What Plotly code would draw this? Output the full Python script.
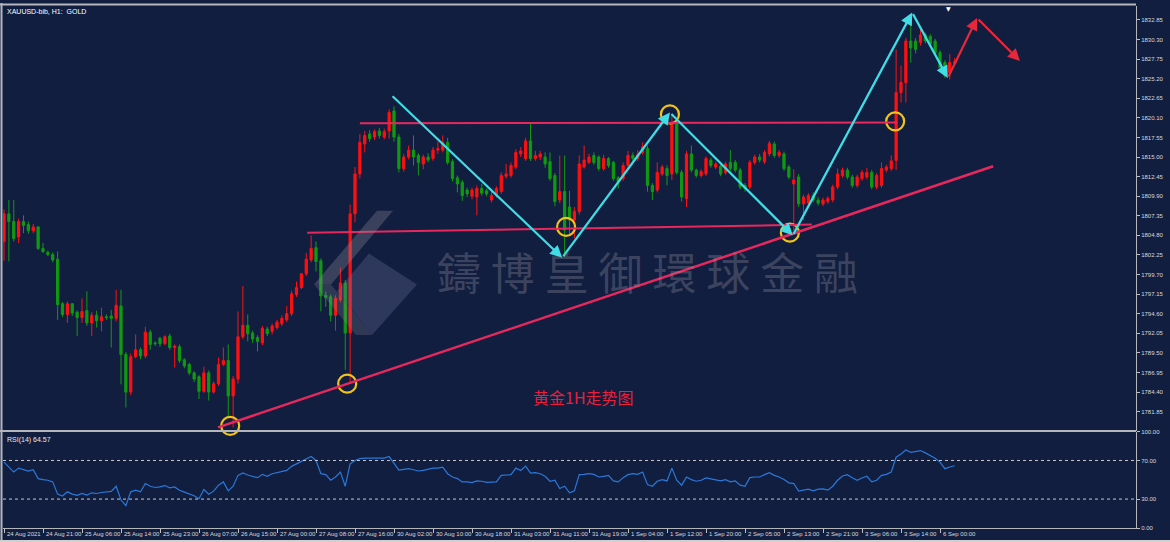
import plotly.graph_objects as go

# ---------------- data ----------------
open_ = [1804.0,1807.6,1806.6,1804.6,1806.6,1806.2,1805.4,1805.9,1803.1,1802.6,
         1802.3,1801.7,1795.9,1794.5,1795.9,1794.8,1794.1,1795.0,1793.4,1794.4,
         1793.7,1794.2,1794.3,1794.0,1795.6,1789.3,1784.4,1789.0,1789.9,1789.1,
         1792.2,1790.8,1791.4,1790.7,1791.7,1790.2,1790.3,1788.6,1788.0,1786.9,
         1786.4,1784.5,1786.9,1784.4,1785.5,1788.0,1788.5,1783.9,1786.1,1791.6,
         1793.1,1792.1,1791.5,1790.8,1792.6,1792.3,1792.8,1793.3,1793.8,1794.6,
         1797.1,1798.0,1799.8,1801.6,1803.2,1801.5,1797.0,1796.8,1794.4,1796.4,
         1798.6,1792.1,1807.6,1812.8,1816.7,1818.0,1817.6,1818.4,1817.6,1818.4,
         1821.0,1817.6,1813.5,1815.0,1815.9,1815.2,1814.1,1815.0,1814.8,1815.9,
         1815.9,1816.9,1814.4,1812.3,1811.7,1810.7,1809.9,1809.8,1810.9,1810.6,
         1809.4,1810.0,1810.5,1812.5,1812.6,1813.7,1815.4,1814.8,1817.1,1814.8,
         1815.0,1815.0,1814.4,1812.6,1809.4,1810.5,1808.5,1806.8,1807.9,1813.7,
         1814.3,1815.2,1815.0,1813.5,1814.8,1814.3,1812.3,1812.2,1813.9,1815.2,
         1814.8,1815.6,1816.1,1811.3,1810.7,1812.8,1813.5,1812.8,1819.3,1813.0,
         1809.6,1815.4,1813.3,1812.6,1812.8,1814.6,1813.7,1813.8,1813.0,1814.3,
         1814.3,1813.3,1811.3,1811.1,1814.3,1815.0,1814.4,1815.4,1816.7,1815.2,
         1815.4,1813.7,1811.5,1812.4,1808.9,1809.0,1810.0,1809.4,1808.9,1809.2,
         1809.4,1811.1,1812.6,1813.3,1812.4,1811.3,1812.2,1812.4,1813.0,1811.1,
         1811.3,1813.3,1813.5,1814.55,1823.4,1824.7,1830.1,1830.1,1829.9,1830.9,
         1830.7,1830.1,1828.6,1827.3,1826.0,1827.2]
high = [1808.2,1809.4,1809.4,1807.0,1807.4,1806.6,1806.3,1806.0,1803.8,1802.8,
        1802.6,1802.7,1796.1,1796.2,1796.0,1795.0,1796.6,1797.5,1794.8,1795.0,
        1795.4,1794.5,1795.1,1797.7,1797.7,1789.6,1789.4,1791.9,1790.2,1792.9,
        1792.5,1791.0,1791.6,1791.8,1792.0,1790.6,1790.6,1788.8,1788.2,1787.1,
        1786.6,1787.7,1787.2,1785.8,1788.9,1790.2,1790.6,1786.5,1794.9,1798.2,
        1794.5,1792.4,1791.8,1793.0,1792.9,1793.3,1793.8,1794.4,1795.6,1797.6,
        1798.8,1799.9,1802.5,1804.8,1804.0,1801.8,1797.5,1797.1,1797.0,1800.6,
        1799.0,1808.8,1813.7,1818.0,1818.4,1818.5,1818.6,1818.8,1818.7,1821.2,
        1821.6,1818.0,1815.4,1816.5,1817.8,1815.5,1815.3,1815.5,1816.3,1817.0,
        1817.8,1817.5,1814.7,1812.6,1812.0,1811.0,1811.0,1811.3,1811.5,1810.9,
        1810.6,1811.2,1813.0,1814.1,1814.3,1816.0,1816.3,1817.5,1819.3,1815.8,
        1815.8,1815.6,1815.6,1812.9,1815.2,1815.2,1810.6,1808.5,1815.2,1816.5,
        1815.4,1815.6,1815.2,1815.3,1815.0,1814.5,1812.5,1814.3,1815.8,1815.6,
        1815.9,1816.9,1816.5,1811.6,1814.3,1814.0,1813.9,1820.4,1820.2,1813.3,
        1815.8,1816.5,1813.5,1813.4,1815.1,1814.9,1814.4,1814.0,1814.4,1815.9,
        1814.6,1813.6,1811.6,1814.6,1815.3,1815.4,1815.9,1817.1,1817.0,1815.9,
        1815.7,1814.0,1813.4,1812.8,1810.1,1810.3,1810.4,1809.8,1809.7,1809.9,
        1811.4,1813.5,1813.6,1813.6,1812.7,1812.7,1813.3,1813.6,1813.3,1812.9,
        1814.3,1814.0,1815.2,1829.0,1826.9,1830.5,1832.5,1830.5,1832.0,1831.2,
        1831.0,1830.4,1828.9,1827.6,1828.4,1827.9]
low = [1801.5,1801.4,1804.0,1803.8,1805.1,1805.0,1805.1,1802.9,1802.5,1802.1,
       1801.3,1793.8,1794.2,1793.4,1794.3,1791.7,1793.4,1793.0,1791.7,1792.8,
       1792.3,1793.8,1790.2,1793.6,1785.4,1782.4,1784.0,1788.8,1788.7,1788.8,
       1789.9,1790.4,1790.3,1790.5,1789.9,1787.6,1788.2,1787.5,1786.6,1785.7,
       1783.5,1784.3,1783.3,1784.2,1785.2,1787.8,1781.1,1779.8,1785.5,1791.3,
       1791.0,1790.8,1789.7,1790.5,1791.7,1791.9,1792.5,1793.0,1793.5,1794.3,
       1796.8,1797.8,1799.5,1801.3,1800.1,1794.9,1795.5,1793.6,1792.4,1796.1,
       1787.3,1785.5,1806.5,1812.2,1815.6,1817.0,1817.2,1817.4,1817.3,1817.4,
       1817.0,1813.0,1813.1,1814.7,1813.9,1812.6,1813.4,1814.3,1814.5,1815.4,
       1815.6,1814.0,1811.8,1810.4,1809.3,1809.8,1809.5,1807.4,1810.0,1809.9,
       1809.1,1809.7,1810.2,1812.2,1812.3,1813.4,1815.0,1814.5,1814.5,1814.5,
       1814.6,1813.6,1811.9,1808.6,1809.0,1802.0,1804.9,1804.4,1807.5,1813.5,
       1814.1,1814.0,1813.2,1813.2,1813.6,1811.9,1810.9,1811.9,1813.6,1814.5,
       1814.5,1815.3,1810.5,1809.4,1810.4,1812.5,1811.3,1812.0,1812.7,1809.2,
       1808.5,1813.0,1812.3,1812.3,1812.5,1813.6,1813.4,1812.5,1812.7,1813.2,
       1813.0,1810.8,1810.5,1810.8,1814.0,1814.3,1814.1,1815.1,1814.9,1814.9,
       1813.2,1812.1,1805.4,1808.5,1806.8,1808.7,1809.1,1808.7,1808.6,1808.9,
       1809.1,1810.8,1812.3,1812.1,1811.0,1811.0,1811.9,1812.1,1810.8,1810.8,
       1811.0,1813.0,1813.2,1813.3,1822.1,1822.1,1827.3,1828.5,1829.5,1829.8,
       1829.4,1828.3,1826.3,1825.3,1825.1,1826.9]
close = [1807.6,1806.6,1804.4,1806.6,1806.1,1805.4,1805.9,1803.1,1802.7,1802.3,
         1801.6,1795.8,1794.5,1795.9,1794.7,1794.1,1794.9,1793.4,1794.4,1793.7,
         1794.2,1794.1,1794.0,1795.7,1789.3,1784.4,1789.0,1789.9,1789.1,1792.2,
         1790.6,1790.7,1790.7,1791.6,1790.2,1790.4,1788.5,1787.8,1786.9,1786.1,
         1784.5,1786.9,1784.4,1785.5,1788.0,1788.5,1783.9,1786.1,1791.6,1793.1,
         1792.0,1791.3,1791.0,1792.7,1792.0,1793.0,1793.5,1794.0,1794.6,1797.2,
         1798.0,1799.8,1801.7,1803.1,1801.4,1796.9,1796.7,1794.4,1796.6,1798.6,
         1792.1,1807.6,1812.8,1816.9,1817.8,1817.4,1818.3,1817.8,1818.3,1820.8,
         1817.6,1813.5,1815.0,1815.9,1815.0,1814.3,1815.0,1814.6,1815.9,1816.1,
         1816.9,1814.3,1812.2,1811.5,1810.0,1810.2,1810.7,1810.9,1810.3,1810.2,
         1810.0,1810.9,1812.6,1812.8,1813.9,1815.6,1815.8,1817.1,1814.8,1815.2,
         1815.4,1814.1,1812.2,1809.2,1810.5,1805.5,1806.8,1807.9,1814.1,1814.6,
         1815.0,1814.3,1813.5,1814.8,1813.9,1812.2,1811.8,1813.9,1815.2,1814.8,
         1815.3,1816.3,1811.3,1810.5,1813.0,1813.7,1812.6,1819.3,1813.0,1809.8,
         1815.4,1813.3,1812.6,1813.1,1814.8,1813.9,1814.1,1812.8,1814.1,1813.5,
         1813.3,1811.1,1810.9,1814.3,1815.0,1814.6,1815.6,1816.8,1815.2,1815.6,
         1813.5,1812.4,1812.0,1808.9,1809.8,1810.0,1809.4,1809.0,1809.4,1809.6,
         1811.1,1812.8,1813.3,1812.4,1811.3,1812.4,1813.0,1813.0,1811.1,1812.6,
         1813.5,1813.7,1814.5,1823.4,1824.7,1830.1,1829.2,1829.0,1830.9,1830.1,
         1829.7,1828.6,1826.6,1825.6,1827.3,1827.4]
rsi = [68.3,63.2,58.0,62.1,60.8,59.1,60.4,51.2,50.2,49.5,
       47.8,35.1,33.1,37.5,35.1,33.8,35.8,34.1,36.5,35.8,
       36.8,37.2,37.9,43.3,29.0,23.2,37.5,39.2,37.5,46.1,
       43.3,42.0,42.6,44.0,41.6,42.6,39.2,37.2,35.1,33.4,
       30.3,39.9,35.1,38.2,44.4,47.8,38.5,43.3,54.6,57.0,
       54.9,53.6,52.2,55.6,53.6,56.3,57.4,58.0,59.7,63.9,
       66.6,69.3,72.0,74.1,70.0,56.3,55.3,49.5,52.9,58.0,
       43.3,66.6,70.0,72.0,72.4,72.4,71.7,71.7,72.4,74.1,
       66.6,60.0,60.8,61.5,60.4,59.1,59.7,60.8,62.1,62.1,
       63.2,56.3,52.9,51.2,47.8,47.8,47.1,48.8,48.5,47.4,
       47.4,47.8,54.6,55.3,55.3,62.1,59.7,64.2,57.0,57.4,
       56.3,53.6,48.5,49.5,40.9,43.3,36.5,38.5,55.3,55.6,
       56.3,55.6,52.9,53.6,54.6,48.8,47.8,52.2,55.3,56.3,
       55.6,58.0,45.0,43.3,48.5,50.2,48.8,62.1,49.5,44.4,
       52.9,50.2,48.5,49.5,51.9,50.9,50.2,48.8,50.2,47.8,
       48.8,44.4,43.3,52.2,52.9,52.9,55.3,57.4,54.6,52.9,
       50.2,46.8,46.1,38.2,39.2,40.3,38.5,40.3,40.6,39.2,
       43.3,49.5,53.9,55.3,52.2,49.5,51.9,53.6,47.8,49.5,
       54.6,55.6,58.0,73.4,76.8,80.9,78.5,79.2,80.3,77.9,
       75.1,72.4,68.3,61.5,63.2,64.57]
tick_labels = ["24 Aug 2021","24 Aug 21:00","25 Aug 06:00","25 Aug 14:00","25 Aug 23:00",
               "26 Aug 07:00","26 Aug 15:00","27 Aug 00:00","27 Aug 08:00","27 Aug 16:00",
               "30 Aug 02:00","30 Aug 10:00","30 Aug 18:00","31 Aug 03:00","31 Aug 11:00",
               "31 Aug 19:00","1 Sep 04:00","1 Sep 12:00","1 Sep 20:00","2 Sep 05:00",
               "2 Sep 13:00","2 Sep 21:00","3 Sep 06:00","3 Sep 14:00","6 Sep 00:00"]
price_ticks = [1781.85,1784.40,1786.95,1789.50,1792.05,1794.60,1797.15,1799.70,1802.25,
               1804.80,1807.35,1809.90,1812.45,1815.00,1817.55,1820.10,1822.65,1825.20,
               1827.75,1830.30,1832.85]
rsi_ticks = [0, 30, 70, 100]

# drawn analysis (bar index, price)
zigzag = [(79.4, 1823.1), (114.5, 1801.9), (136.6, 1820.8), (161.8, 1804.8),
          (186.3, 1833.8), (193.6, 1825.3)]
forecast = [(193.6, 1825.3), (199.6, 1833.1), (208.4, 1827.5)]
resistance = [(73.0, 1819.4), (183.2, 1819.5)]
support = [(62.2, 1805.15), (165.7, 1806.2)]
trendline = [(43.9, 1779.8), (202.9, 1813.8)]
circle_x = [46.4, 70.4, 115.3, 136.6, 161.2, 182.8]
circle_y = [1780.0, 1785.5, 1805.9, 1820.55, 1805.15, 1819.65]

# ---------------- layout geometry ----------------
W, H = 1170, 542
ML, MR, MT, MB = 3, 34, 3, 14
PW, PH = W - ML - MR, H - MT - MB
def px(xp):
    return (xp - ML) / PW
def py(yp):
    return (H - MB - yp) / PH

BG = "#121e40"
FONT = "Liberation Sans"
bars = list(range(len(close)))
xr = [(ML - 4) / 4.875, (W - MR - 4) / 4.875]

fig = go.Figure()
fig.add_trace(go.Candlestick(
    x=bars, open=open_, high=high, low=low, close=close,
    increasing=dict(line=dict(color="#ff1010", width=1), fillcolor="#ff1010"),
    decreasing=dict(line=dict(color="#109a10", width=1), fillcolor="#109a10"),
    whiskerwidth=0, hoverinfo="skip", xaxis="x", yaxis="y", showlegend=False))
fig.add_trace(go.Scatter(
    x=bars, y=rsi, mode="lines", line=dict(color="#2a78d8", width=1.2),
    xaxis="x2", yaxis="y2", hoverinfo="skip", showlegend=False))
fig.add_trace(go.Scatter(
    x=circle_x, y=circle_y, mode="markers", cliponaxis=False,
    marker=dict(symbol="circle-open", size=18, color="#f2c417", line=dict(width=2.2)),
    xaxis="x", yaxis="y", hoverinfo="skip", showlegend=False))

shapes = []
for (p0, p1), w in ((resistance, 2), (support, 2), (trendline, 2.5)):
    shapes.append(dict(type="line", xref="x", yref="y", x0=p0[0], y0=p0[1], x1=p1[0], y1=p1[1],
                       line=dict(color="#e8285c", width=w)))
for lvl in (30, 70):
    shapes.append(dict(type="line", xref="paper", yref="y2", x0=0, x1=1, y0=lvl, y1=lvl,
                       line=dict(color="#c8c8c8", width=1, dash="dot")))
# frames
frame = "#b4b6bc"
shapes.append(dict(type="line", xref="paper", yref="paper", x0=px(0), x1=px(1136), y0=py(430.5), y1=py(430.5),
                   line=dict(color=frame, width=2)))
shapes.append(dict(type="line", xref="paper", yref="paper", x0=px(0), x1=px(1136), y0=py(1.5), y1=py(1.5),
                   line=dict(color=frame, width=2)))
shapes.append(dict(type="line", xref="paper", yref="paper", x0=px(1.5), x1=px(1.5), y0=py(0), y1=py(541),
                   line=dict(color=frame, width=2)))
shapes.append(dict(type="line", xref="paper", yref="paper", x0=px(0), x1=px(1170), y0=py(541), y1=py(541),
                   line=dict(color="#d0d0d0", width=2)))
# watermark logo
wm = "rgba(150,150,158,0.30)"
def poly(pts, color):
    d = "M " + " L ".join(f"{px(a):.5f},{py(b):.5f}" for a, b in pts) + " Z"
    return dict(type="path", xref="paper", yref="paper", path=d, fillcolor=color, line=dict(width=0))
shapes.append(poly([(377, 209), (393, 209), (331, 283), (314, 283)], wm))
shapes.append(poly([(314, 283), (331, 283), (372, 334), (356, 334)], "rgba(150,150,158,0.22)"))
shapes.append(poly([(369, 252), (417, 283), (372, 334), (337, 290)], "rgba(110,120,160,0.30)"))

ann = []
for (p0, p1) in zip(zigzag[:-1], zigzag[1:]):
    ann.append(dict(x=p1[0], y=p1[1], ax=p0[0], ay=p0[1], xref="x", yref="y", axref="x", ayref="y",
                    text="", showarrow=True, arrowhead=2, arrowsize=1.1, arrowwidth=2.2, arrowcolor="#40dde4"))
for (p0, p1) in zip(forecast[:-1], forecast[1:]):
    ann.append(dict(x=p1[0], y=p1[1], ax=p0[0], ay=p0[1], xref="x", yref="y", axref="x", ayref="y",
                    text="", showarrow=True, arrowhead=2, arrowsize=1.1, arrowwidth=2.2, arrowcolor="#e8283a"))
ann.append(dict(x=118.8, y=1783.7, xref="x", yref="y", text="黄金1H走势图", showarrow=False,
                font=dict(family="Noto Sans CJK SC", size=16, color="#e8203c")))
ann.append(dict(x=px(647), y=py(270), xref="paper", yref="paper",
                text="鑄\u00a0博\u00a0皇\u00a0御\u00a0環\u00a0球\u00a0金\u00a0融", showarrow=False,
                font=dict(family="Noto Sans CJK TC", size=44, color="rgba(150,150,160,0.33)")))
ann.append(dict(x=px(5), y=py(3), xref="paper", yref="paper", xanchor="left", yanchor="top",
                text="XAUUSD-bib, H1:  GOLD", showarrow=False, font=dict(family=FONT, size=7, color="#ffffff")))
ann.append(dict(x=px(5), y=py(433), xref="paper", yref="paper", xanchor="left", yanchor="top",
                text="RSI(14) 64.57", showarrow=False, font=dict(family=FONT, size=7, color="#e8e8e8")))
ann.append(dict(x=px(953), y=py(0), xref="paper", yref="paper", yanchor="top",
                text="▼", showarrow=False, font=dict(family="DejaVu Sans", size=6, color="#ffffff")))
tick_pos = bars[::8][:len(tick_labels)]
for b, t in zip(tick_pos, tick_labels):
    ann.append(dict(x=b, y=0, xref="x2", yref="paper", xanchor="left", yanchor="top", yshift=-1, xshift=1,
                    text=t, showarrow=False, font=dict(family=FONT, size=6, color="#d8d8d8")))

axis_common = dict(showgrid=False, zeroline=False)
fig.update_layout(
    width=W, height=H, margin=dict(l=ML, r=MR, t=MT, b=MB),
    paper_bgcolor=BG, plot_bgcolor=BG, showlegend=False,
    boxgap=0.35,
    xaxis=dict(domain=[0, 1], range=xr, anchor="y", showticklabels=False, ticks="",
               rangeslider=dict(visible=False), showline=False, **axis_common),
    xaxis2=dict(domain=[0, 1], range=xr, anchor="y2", tickvals=tick_pos, showticklabels=False,
                ticks="outside", ticklen=4, tickcolor="#c0c0c0", showline=True, linecolor="#b4b6bc",
                linewidth=1, **axis_common),
    yaxis=dict(domain=[py(430), 1], range=[1779.39, 1834.66], side="right", anchor="x",
               tickvals=price_ticks, ticktext=[f"{v:.2f}" for v in price_ticks],
               ticks="outside", ticklen=3, tickcolor="#c0c0c0", showline=True, linecolor="#b4b6bc",
               tickfont=dict(family=FONT, size=6, color="#d8d8d8"), **axis_common),
    yaxis2=dict(domain=[0, py(431)], range=[0, 100], side="right", anchor="x2",
                tickvals=rsi_ticks, ticktext=[f"{v:.2f}" for v in rsi_ticks],
                ticks="outside", ticklen=3, tickcolor="#c0c0c0", showline=True, linecolor="#b4b6bc",
                tickfont=dict(family=FONT, size=6, color="#d8d8d8"), **axis_common),
    shapes=shapes, annotations=ann,
)
fig.write_html("out.html")
